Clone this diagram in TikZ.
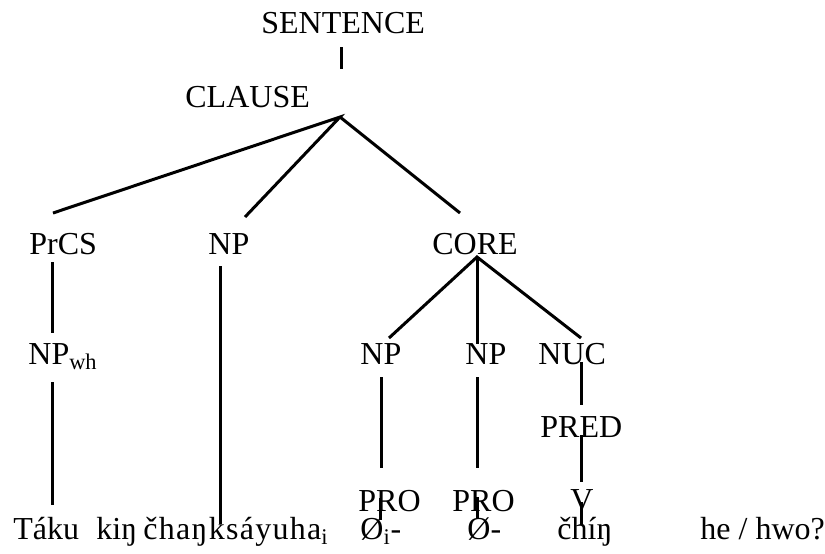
\documentclass[tikz,border=0pt]{standalone}
\usepackage{fontspec}
\setmainfont{Liberation Serif}
\begin{document}
\begin{tikzpicture}[x=0.5pt,y=-0.5pt,
	lbl/.style={anchor=base west,inner sep=0pt,font=\fontsize{16}{19}\selectfont},
	branch/.style={line width=1.5pt}]
	\useasboundingbox (0,0) rectangle (825,553);
	% labels
	\node[lbl] (sentence) at (261,33) {SENTENCE};
	\node[lbl] (clause) at (185,107) {CLAUSE};
	\node[lbl] (prcs) at (29,254) {PrCS};
	\node[lbl] (np) at (208,254) {NP};
	\node[lbl] (core) at (432,254) {CORE};
	\node[lbl] (npwh) at (28,364) {NP\textsubscript{wh}};
	\node[lbl] (npa) at (360,364) {NP};
	\node[lbl] (npb) at (465,364) {NP};
	\node[lbl] (nuc) at (538,364) {NUC};
	\node[lbl] (pred) at (540,437) {PRED};
	\node[lbl] (proa) at (358,511) {PRO};
	\node[lbl] (prob) at (452,511) {PRO};
	\node[lbl] (v) at (570,510) {V};
	% words
	\node[lbl] (taku) at (13,539) {Táku};
	\node[lbl] (kin) at (96,539) {kiŋ};
	\node[lbl] (chanks) at (143,539) {\addfontfeature{LetterSpace=4}čhaŋksáyuha\textsubscript{i}};
	\node[lbl] (zeroa) at (360,539) {Ø\textsubscript{i}-};
	\node[lbl] (zerob) at (467,539) {Ø-};
	\node[lbl] (chin) at (557,539) {čhíŋ};
	\node[lbl] (hehwo) at (700,539) {he / hwo?};
	% branch ends
	\coordinate (sentence-b) at (341,47);
	\coordinate (clause-t) at (341,69);
	\coordinate (clause-b) at (340,117);
	\coordinate (prcs-t) at (53,213);
	\coordinate (np-t) at (245,217);
	\coordinate (core-t) at (460,213);
	\coordinate (prcs-b) at (52,262);
	\coordinate (npwh-t) at (52,333);
	\coordinate (npwh-b) at (52,382);
	\coordinate (taku-t) at (52,505);
	\coordinate (np-b) at (220,266);
	\coordinate (chanks-t) at (220,524);
	\coordinate (core-b) at (477,257);
	\coordinate (npa-t) at (389,338);
	\coordinate (npb-t) at (477,344);
	\coordinate (nuc-t) at (581,338);
	\coordinate (npa-b) at (381,377);
	\coordinate (proa-t) at (381,468);
	\coordinate (npb-b) at (477,377);
	\coordinate (prob-t) at (477,468);
	\coordinate (nuc-b) at (581,362);
	\coordinate (pred-t) at (581,405);
	\coordinate (pred-b) at (581,435);
	\coordinate (v-t) at (581,482);
	\coordinate (proa-b) at (380,498);
	\coordinate (zeroa-t) at (380,520);
	\coordinate (prob-b) at (477,497);
	\coordinate (zerob-t) at (477,519);
	\coordinate (v-b) at (581,502);
	\coordinate (chin-t) at (581,525);
	% branches
	\draw[branch] (sentence-b)--(clause-t);
	\draw[branch] (prcs-t)--(clause-b)--(np-t);
	\draw[branch] (clause-b)--(core-t);
	\draw[branch] (prcs-b)--(npwh-t);
	\draw[branch] (npwh-b)--(taku-t);
	\draw[branch] (np-b)--(chanks-t);
	\draw[branch] (npa-t)--(core-b)--(nuc-t);
	\draw[branch] (core-b)--(npb-t);
	\draw[branch] (npa-b)--(proa-t);
	\draw[branch] (npb-b)--(prob-t);
	\draw[branch] (nuc-b)--(pred-t);
	\draw[branch] (pred-b)--(v-t);
	\draw[branch] (proa-b)--(zeroa-t);
	\draw[branch] (prob-b)--(zerob-t);
	\draw[branch] (v-b)--(chin-t);
\end{tikzpicture}
\end{document}
